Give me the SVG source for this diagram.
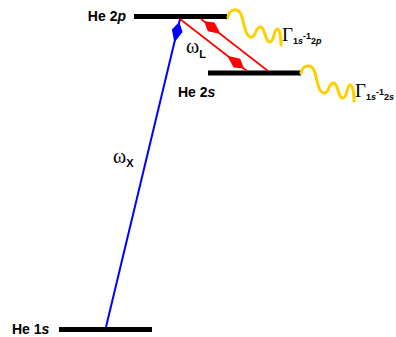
<svg xmlns="http://www.w3.org/2000/svg" xmlns:xlink="http://www.w3.org/1999/xlink" width="396" height="337" viewBox="0 0 396 337">
<style>
.bar{stroke:#000;stroke-width:5;fill:none}
.lbl{font-family:"Liberation Sans",Arial,sans-serif;font-weight:bold;font-size:14px;fill:#000}
.it{font-style:italic}
.wave{stroke:#FFD000;stroke-width:3;fill:none;stroke-linecap:round}
.gam{font-family:"Liberation Serif","Times New Roman",serif;font-size:19px;fill:#000}
.sub{font-family:"Liberation Sans",Arial,sans-serif;font-weight:bold;font-size:9px}
.omega{font-family:"Liberation Serif","Times New Roman",serif;font-size:20px;fill:#000}
.osub{font-family:"Liberation Sans",Arial,sans-serif;font-weight:bold;font-size:11px}
</style>
<defs>
<path id="kite" d="M0,0 L-9,-5.5 L-21,0 L-9,5.5 Z"/>
<path id="wv" d="M0,0 C2,-9 11,-10 14,0 C17,11 18,21 24,20 C28,19 28,9 33,10 C37,11 37,25 42,25 C46,25 46,12 49,12 C52,12 53,21 53,28"/>
</defs>
<g id="level-2p">
<line class="bar" x1="134" y1="16.5" x2="227" y2="16.5"/>
<text class="lbl" x="126" y="21" text-anchor="end">He 2<tspan class="it">p</tspan></text>
<use href="#wv" class="wave" transform="translate(228,17)"/>
<text class="gam" x="282" y="41">Γ<tspan class="sub" dy="3">1<tspan class="it">s</tspan></tspan><tspan class="sub" dy="-5">-1</tspan><tspan class="sub" dy="5">2<tspan class="it">p</tspan></tspan></text>
</g>
<g id="level-2s">
<line class="bar" x1="208" y1="73" x2="301" y2="73"/>
<text class="lbl" x="178" y="97">He 2<tspan class="it">s</tspan></text>
<use href="#wv" class="wave" transform="translate(301,73)"/>
<text class="gam" x="355" y="97">Γ<tspan class="sub" dy="3">1<tspan class="it">s</tspan></tspan><tspan class="sub" dy="-5">-1</tspan><tspan class="sub" dy="5">2<tspan class="it">s</tspan></tspan></text>
</g>
<g id="level-1s">
<line class="bar" x1="59" y1="329.5" x2="152" y2="329.5"/>
<text class="lbl" x="12" y="334">He 1<tspan class="it">s</tspan></text>
</g>
<g id="connectors">
<g id="omega-x">
<line x1="106" y1="327" x2="180" y2="19" stroke="#0000FF" stroke-width="2"/>
<use href="#kite" fill="#0000FF" transform="translate(179.3,22) rotate(-76.5)"/>
<text class="omega" x="113" y="163">ω<tspan class="osub" dy="4">X</tspan></text>
</g>
<g id="omega-l">
<line x1="180" y1="19" x2="247" y2="71" stroke="#FF0000" stroke-width="1.6"/>
<line x1="201" y1="19" x2="268" y2="71" stroke="#FF0000" stroke-width="1.6"/>
<use href="#kite" fill="#FF0000" transform="translate(244,68.5) rotate(37.3)"/>
<use href="#kite" fill="#FF0000" transform="translate(204,21.3) rotate(217.3)"/>
<text class="omega" x="186" y="53">ω<tspan class="osub" dy="5">L</tspan></text>
</g>
</g>
</svg>
